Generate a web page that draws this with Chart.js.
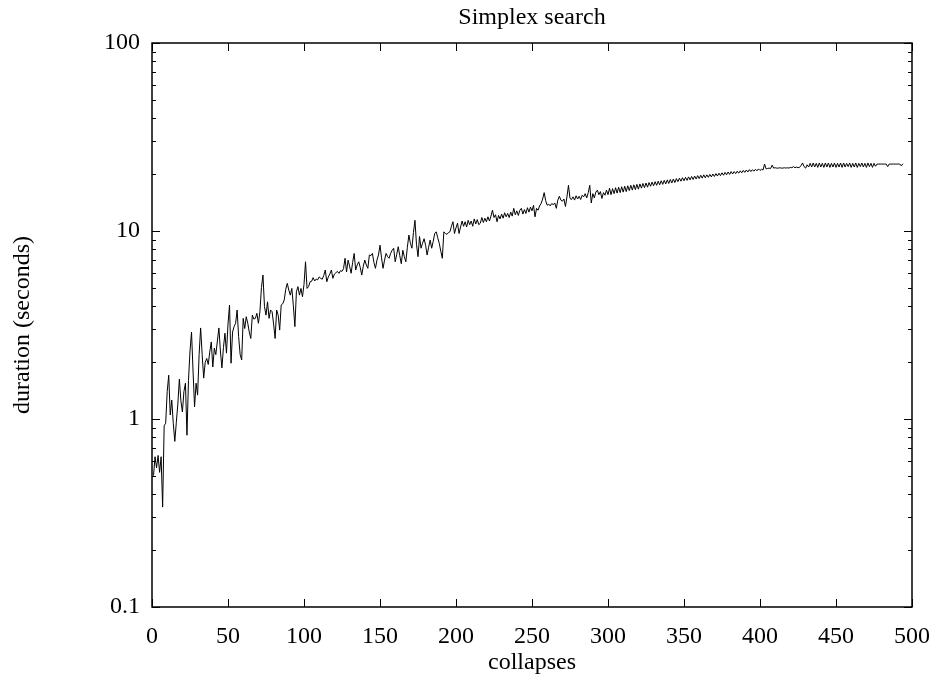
<!DOCTYPE html>
<html>
<head>
<meta charset="utf-8">
<script src="https://cdn.jsdelivr.net/npm/chart.js@4.4.1/dist/chart.umd.min.js"></script>
<style>
  html, body { margin: 0; padding: 0; background: #fff; }
  #wrap { width: 935px; height: 681px; }
</style>
</head>
<body>
<div id="wrap"><canvas id="c" width="935" height="681"></canvas></div>
<script>
// Duration (seconds) of the simplex search after each collapse, collapses 1..494
const durations = [
  0.50, 0.63, 0.55, 0.64, 0.52, 0.63, 0.34, 0.92, 0.95, 1.40,
  1.71, 1.05, 1.26, 0.95, 0.76, 0.96, 1.20, 1.63, 1.25, 1.09,
  1.40, 1.55, 0.82, 1.60, 2.30, 2.90, 1.80, 1.16, 1.55, 1.34,
  2.20, 3.05, 2.20, 1.65, 2.00, 2.10, 1.95, 2.27, 2.57, 1.89,
  2.38, 2.20, 2.60, 3.05, 2.30, 1.87, 2.40, 2.86, 2.24, 3.20,
  4.04, 1.98, 2.90, 3.10, 3.23, 3.80, 2.74, 2.20, 2.06, 3.43,
  3.03, 3.50, 3.23, 2.90, 2.68, 3.57, 3.40, 3.43, 3.65, 3.23,
  3.72, 5.00, 5.83, 3.96, 3.57, 4.20, 3.43, 3.80, 3.72, 3.20,
  2.68, 3.80, 3.57, 2.97, 4.04, 4.10, 4.30, 4.90, 5.27, 4.85,
  4.56, 4.95, 4.00, 3.10, 4.75, 5.06, 4.56, 4.95, 4.47, 5.20,
  6.86, 4.95, 5.06, 5.37, 5.40, 5.65, 5.42, 5.55, 5.50, 5.70,
  5.60, 5.54, 5.80, 6.20, 5.37, 5.70, 5.90, 6.20, 5.60, 5.90,
  6.00, 6.10, 5.95, 6.15, 6.10, 6.30, 7.16, 6.06, 7.00, 6.50,
  5.96, 6.80, 7.59, 6.20, 6.60, 6.86, 6.40, 5.83, 6.50, 7.00,
  6.60, 6.33, 7.45, 7.40, 7.60, 6.80, 6.33, 7.00, 7.45, 8.40,
  7.20, 6.33, 7.00, 7.60, 7.30, 7.16, 7.60, 7.90, 8.10, 6.86,
  7.50, 8.25, 7.40, 6.70, 7.90, 7.30, 6.86, 8.20, 9.52, 8.60,
  8.10, 9.80, 11.4, 8.50, 7.30, 9.35, 8.10, 8.60, 9.10, 8.40,
  7.45, 8.20, 8.95, 8.10, 8.80, 9.70, 9.90, 9.20, 8.60, 7.80,
  7.16, 9.90, 9.70, 9.60, 9.80, 9.90, 10.6, 11.2, 9.70, 10.4,
  11.0, 9.70, 10.5, 11.3, 10.6, 11.2, 10.5, 11.4, 10.8, 11.3,
  10.6, 11.6, 10.9, 11.5, 10.8, 11.0, 11.8, 11.1, 11.7, 11.2,
  11.9, 11.3, 12.0, 12.9, 11.8, 12.2, 11.2, 12.1, 11.6, 12.3,
  11.7, 12.5, 11.9, 12.4, 11.8, 12.6, 12.0, 13.2, 12.2, 12.8,
  12.1, 12.9, 13.2, 12.3, 13.0, 12.4, 13.3, 12.6, 13.4, 12.8,
  13.7, 11.9, 13.2, 12.9, 13.6, 14.0, 14.8, 16.0, 14.5, 13.7,
  13.9, 13.6, 14.0, 13.8, 14.1, 13.2, 14.6, 15.3, 14.6, 14.4,
  14.8, 13.5, 15.2, 17.5, 14.9, 14.7, 15.2, 14.6, 15.4, 14.8,
  15.3, 14.7, 15.5, 15.2, 15.8, 15.0, 16.0, 17.5, 14.1, 15.8,
  15.0, 16.1, 16.5, 15.6, 16.2, 14.9, 16.0, 15.5, 16.5, 15.6,
  16.9, 15.6, 16.8, 15.8, 17.0, 15.9, 17.1, 16.0, 17.2, 16.1,
  17.3, 16.2, 17.4, 16.4, 17.5, 16.5, 17.6, 16.6, 17.7, 16.7,
  17.8, 16.9, 17.9, 17.0, 18.0, 17.1, 18.1, 17.3, 18.2, 17.4,
  18.3, 17.5, 18.4, 17.6, 18.5, 17.7, 18.6, 17.8, 18.7, 17.9,
  18.8, 18.0, 18.9, 18.1, 19.0, 18.3, 19.1, 18.4, 19.2, 18.5,
  19.3, 18.6, 19.4, 18.7, 19.5, 18.8, 19.6, 18.9, 19.7, 19.0,
  19.8, 19.1, 19.9, 19.2, 19.9, 19.3, 20.0, 19.4, 20.1, 19.5,
  20.2, 19.6, 20.3, 19.7, 20.4, 19.8, 20.5, 19.9, 20.6, 20.0,
  20.7, 20.1, 20.7, 20.2, 20.8, 20.3, 20.9, 20.4, 21.0, 20.5,
  21.1, 20.6, 21.2, 20.7, 21.2, 20.8, 21.3, 20.9, 21.4, 21.0,
  21.3, 21.1, 22.7, 21.4, 21.5, 21.6, 21.5, 22.4, 21.6, 21.7,
  21.6, 21.6, 21.7, 21.6, 21.6, 21.7, 21.6, 21.7, 21.6, 21.8,
  21.7, 22.0, 21.7, 21.9, 21.7, 21.8, 22.3, 23.0, 22.0, 21.6,
  22.5, 21.9, 22.9, 21.9, 23.0, 21.9, 22.9, 21.8, 23.0, 21.9,
  22.9, 21.8, 23.0, 21.9, 23.0, 21.8, 22.9, 21.9, 23.0, 21.8,
  22.9, 21.9, 23.0, 21.8, 23.0, 21.9, 22.9, 22.0, 23.0, 21.8,
  22.9, 21.9, 23.0, 21.8, 22.9, 22.0, 23.0, 21.9, 22.9, 21.8,
  23.0, 22.0, 22.9, 21.8, 22.9, 22.1, 22.7, 22.7, 22.7, 22.7,
  22.7, 22.7, 22.7, 22.0, 22.7, 22.7, 22.7, 22.7, 22.7, 22.7,
  22.7, 22.7, 22.2, 22.8
];
const collapses = durations.map((_, i) => i + 1);

const xTicks = [0, 50, 100, 150, 200, 250, 300, 350, 400, 450, 500];
const yTicks = [0.1, 1, 10, 100];
const yMinorSteps = [2, 3, 4, 5, 6, 7, 8, 9];
const chartTitle = 'Simplex search';

const FONT = 'Liberation Serif, Times New Roman, serif';

// Frame with inward tick marks on all four sides, plus the title centred over the plot
const framePlugin = {
  id: 'frame',
  afterDatasetsDraw(chart) {
    const { ctx, chartArea: a, scales: { x, y } } = chart;
    ctx.save();
    ctx.strokeStyle = '#000';
    ctx.lineWidth = 1;
    const major = 8, minor = 4;
    ctx.beginPath();
    xTicks.forEach(v => {
      const px = Math.round(x.getPixelForValue(v)) + 0.5;
      ctx.moveTo(px, a.bottom); ctx.lineTo(px, a.bottom - major);
      ctx.moveTo(px, a.top); ctx.lineTo(px, a.top + major);
    });
    yTicks.forEach(v => {
      const py = Math.round(y.getPixelForValue(v)) + 0.5;
      ctx.moveTo(a.left, py); ctx.lineTo(a.left + major, py);
      ctx.moveTo(a.right, py); ctx.lineTo(a.right - major, py);
    });
    yTicks.slice(0, -1).forEach(d => {
      yMinorSteps.forEach(m => {
        const py = Math.round(y.getPixelForValue(d * m)) + 0.5;
        ctx.moveTo(a.left, py); ctx.lineTo(a.left + minor, py);
        ctx.moveTo(a.right, py); ctx.lineTo(a.right - minor, py);
      });
    });
    ctx.stroke();
    ctx.lineWidth = 1.5;
    ctx.strokeRect(a.left, a.top, a.right - a.left, a.bottom - a.top);

    ctx.fillStyle = '#000';
    ctx.font = '24px ' + FONT;
    ctx.textAlign = 'center';
    ctx.textBaseline = 'middle';
    ctx.fillText(chartTitle, (a.left + a.right) / 2, 18);
    ctx.restore();
  }
};

new Chart(document.getElementById('c'), {
  type: 'line',
  data: {
    datasets: [{
      data: collapses.map((c, i) => ({ x: c, y: durations[i] })),
      borderColor: '#000',
      borderWidth: 1,
      pointRadius: 0,
      tension: 0,
      fill: false
    }]
  },
  options: {
    responsive: false,
    animation: false,
    events: [],
    layout: { padding: { left: 0, right: 23, top: 43, bottom: 0 } },
    plugins: {
      legend: { display: false },
      tooltip: { enabled: false },
      title: { display: false }
    },
    scales: {
      x: {
        type: 'linear',
        min: 0, max: 500,
        afterFit(s) { s.height = 74; s.paddingLeft = 0; s.paddingRight = 0; },
        afterBuildTicks(s) { s.ticks = xTicks.map(v => ({ value: v })); },
        grid: { display: false, drawTicks: false },
        border: { display: false },
        ticks: {
          color: '#000',
          padding: 15,
          maxRotation: 0,
          font: { family: FONT, size: 24 },
          callback: v => String(v)
        },
        title: {
          display: true,
          text: 'collapses',
          color: '#000',
          font: { family: FONT, size: 24 },
          padding: { top: 0, bottom: 4 }
        }
      },
      y: {
        type: 'logarithmic',
        min: 0.1, max: 100,
        afterFit(s) { s.width = 152; s.paddingTop = 0; s.paddingBottom = 0; },
        afterBuildTicks(s) { s.ticks = yTicks.map(v => ({ value: v })); },
        grid: { display: false, drawTicks: false },
        border: { display: false },
        ticks: {
          color: '#000',
          padding: 12,
          font: { family: FONT, size: 24 },
          callback: v => String(v)
        },
        title: {
          display: true,
          text: 'duration (seconds)',
          color: '#000',
          font: { family: FONT, size: 24 },
          padding: { top: 8, bottom: 0 }
        }
      }
    }
  },
  plugins: [framePlugin]
});
</script>
</body>
</html>
